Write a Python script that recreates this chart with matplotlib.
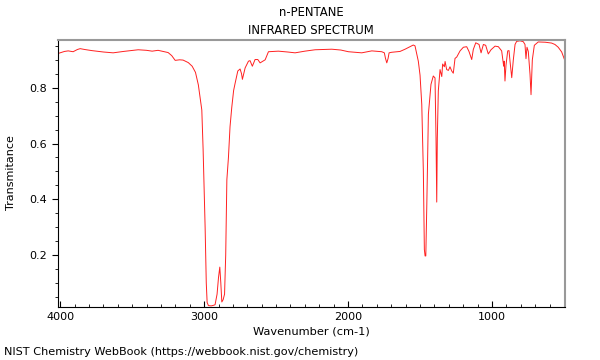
import numpy as np
import matplotlib
matplotlib.use("Agg")
import matplotlib.pyplot as plt
from matplotlib.ticker import MultipleLocator

# spectrum: wavenumber (cm-1) and transmittance
wavenumber = [4025, 4000, 3970, 3944, 3910, 3880, 3861, 3830, 3780, 3700,
              3632, 3560, 3458, 3400, 3361, 3320, 3250, 3225, 3201, 3170,
              3146, 3110, 3083, 3060, 3040, 3028, 3016, 3007, 2998, 2993,
              2985, 2979, 2970, 2951, 2935, 2924, 2910, 2900, 2891, 2884,
              2877, 2868, 2858, 2850, 2842, 2831, 2820, 2808, 2795, 2785,
              2766, 2750, 2740, 2734, 2725, 2715, 2692, 2681, 2665, 2646,
              2627, 2611, 2576, 2553, 2484, 2420, 2368, 2300, 2229, 2113,
              2050, 1998, 1905, 1835, 1766, 1748, 1740, 1731, 1722, 1715,
              1697, 1639, 1604, 1570, 1547, 1535, 1512, 1500, 1488, 1477,
              1470, 1465, 1460, 1453, 1442, 1424, 1408, 1396, 1389, 1384,
              1380, 1373, 1361, 1349, 1343, 1331, 1326, 1315, 1303, 1292,
              1280, 1269, 1257, 1245, 1222, 1199, 1176, 1160, 1141, 1130,
              1113, 1090, 1076, 1060, 1044, 1026, 1007, 979, 956, 933,
              919, 915, 910, 903, 891, 882, 875, 863, 852, 840,
              829, 806, 783, 771, 764, 757, 748, 736, 729, 720,
              706, 679, 630, 586, 563, 540, 516, 488]
transmittance = [0.921, 0.925, 0.930, 0.932, 0.929, 0.937, 0.940, 0.937, 0.933, 0.928,
                 0.925, 0.930, 0.936, 0.934, 0.931, 0.934, 0.926, 0.915, 0.898, 0.900,
                 0.899, 0.890, 0.877, 0.855, 0.810, 0.764, 0.720, 0.580, 0.400, 0.300,
                 0.100, 0.030, 0.019, 0.018, 0.020, 0.022, 0.060, 0.120, 0.157, 0.100,
                 0.032, 0.040, 0.060, 0.200, 0.470, 0.550, 0.660, 0.729, 0.790, 0.815,
                 0.860, 0.867, 0.850, 0.830, 0.850, 0.871, 0.895, 0.897, 0.877, 0.901,
                 0.901, 0.889, 0.900, 0.929, 0.931, 0.928, 0.925, 0.931, 0.936, 0.938,
                 0.935, 0.929, 0.925, 0.932, 0.929, 0.925, 0.905, 0.889, 0.905, 0.925,
                 0.927, 0.930, 0.938, 0.947, 0.953, 0.950, 0.895, 0.845, 0.740, 0.500,
                 0.220, 0.197, 0.197, 0.380, 0.705, 0.812, 0.842, 0.835, 0.620, 0.390,
                 0.620, 0.789, 0.865, 0.840, 0.885, 0.875, 0.894, 0.865, 0.862, 0.875,
                 0.860, 0.852, 0.905, 0.910, 0.932, 0.945, 0.947, 0.930, 0.901, 0.937,
                 0.961, 0.955, 0.925, 0.955, 0.952, 0.921, 0.936, 0.949, 0.947, 0.932,
                 0.877, 0.895, 0.824, 0.880, 0.932, 0.933, 0.895, 0.836, 0.900, 0.955,
                 0.966, 0.968, 0.965, 0.955, 0.904, 0.945, 0.930, 0.848, 0.775, 0.900,
                 0.952, 0.964, 0.963, 0.960, 0.955, 0.945, 0.928, 0.889]

W, H = 600, 360
fig = plt.figure(figsize=(6, 3.6), dpi=100)
# axes box in pixels: left 58, right 565, top 40, bottom 307
ax = fig.add_axes([58 / W, 1 - 307 / H, (565 - 58) / W, (307 - 40) / H])

ax.plot(wavenumber, transmittance, color="#ff2020", lw=0.7)

ax.set_xlim(4015, 493)
ax.set_ylim(0.014, 0.971)

ax.xaxis.set_major_locator(MultipleLocator(1000))
ax.xaxis.set_minor_locator(MultipleLocator(100))
ax.yaxis.set_major_locator(MultipleLocator(0.2))
ax.yaxis.set_minor_locator(MultipleLocator(0.05))
ax.tick_params(which="both", labelsize=8)
ax.tick_params(axis="x", which="both", direction="in")
ax.tick_params(axis="y", which="both", direction="out")
ax.tick_params(which="major", length=4.5)
ax.tick_params(which="minor", length=2.5)
ax.tick_params(top=False, right=False)

for side in ["top", "right"]:
    ax.spines[side].set_color("#999999")
    ax.spines[side].set_linewidth(1.5)

fig.text(311 / W, 1 - 12 / H, "n-PENTANE", fontsize=8.4, ha="center", va="center")
fig.text(311 / W, 1 - 30 / H, "INFRARED SPECTRUM", fontsize=8.4, ha="center", va="center")
fig.text(311 / W, 1 - 331 / H, "Wavenumber (cm-1)", fontsize=8.2, ha="center", va="center")
fig.text(11 / W, 1 - 173 / H, "Transmitance", fontsize=8, ha="center", va="center",
         rotation=90)
fig.text(4 / W, 1 - 352 / H, "NIST Chemistry WebBook (https://webbook.nist.gov/chemistry)",
         fontsize=8.1, ha="left", va="center")

fig.savefig("out.png", dpi=100)
